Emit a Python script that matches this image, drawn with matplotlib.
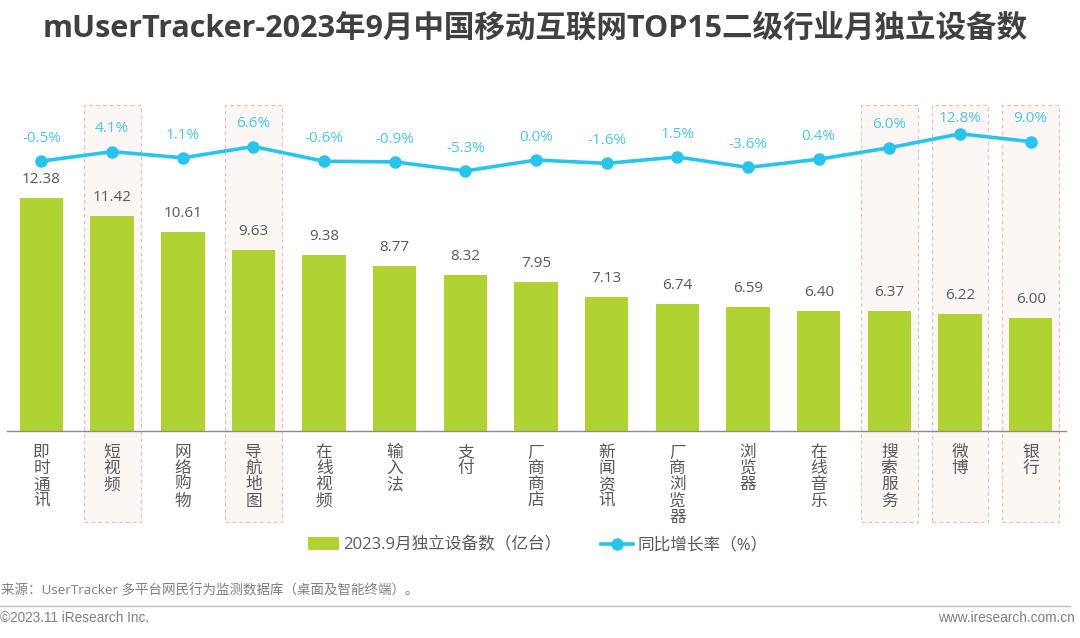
import matplotlib
matplotlib.use("Agg")
import numpy as np
import matplotlib.pyplot as plt
from matplotlib.patches import Rectangle

plt.rcParams['font.family'] = ['Open Sans', 'Noto Sans CJK SC', 'DejaVu Sans']

# data
categories = ['即时通讯', '短视频', '网络购物', '导航地图', '在线视频', '输入法', '支付', '厂商商店',
              '新闻资讯', '厂商浏览器', '浏览器', '在线音乐', '搜索服务', '微博', '银行']
devices = [12.38, 11.42, 10.61, 9.63, 9.38, 8.77, 8.32, 7.95, 7.13, 6.74, 6.59, 6.40, 6.37, 6.22, 6.00]
growth = [-0.5, 4.1, 1.1, 6.6, -0.6, -0.9, -5.3, 0.0, -1.6, 1.5, -3.6, 0.4, 6.0, 12.8, 9.0]
highlighted = ['短视频', '导航地图', '搜索服务', '微博', '银行']

W, H = 1080, 638
GREEN = '#b0d232'
BLUE = '#29c4ec'
GREY = '#595959'

fig = plt.figure(figsize=(W / 100, H / 100), dpi=100)

# axes box in pixels: left 7, right 1066, top 100, bottom 431
ax = fig.add_axes([7 / W, 1 - 431 / H, 1059 / W, 331 / H])
x = np.arange(len(categories))
ax.set_xlim(-0.488, 14.5)
ax.set_ylim(0, 331 / 18.8)

# pink dashed boxes run from above the line down past the labels
for name in highlighted:
    i = categories.index(name)
    ax.add_patch(Rectangle((i - 0.403, -91 / 331), 0.806, 417 / 331,
                           transform=ax.get_xaxis_transform(), clip_on=False,
                           facecolor='#fcf6f5', edgecolor='#e3c4c4', linewidth=0.9,
                           linestyle=(0, (3, 2.5)), zorder=0))

bars = ax.bar(x, devices, width=0.615, color=GREEN, zorder=2, label='2023.9月独立设备数（亿台）')
for i, v in enumerate(devices):
    ax.annotate(f'{v:.2f}', (i, v), xytext=(0, 7.8), textcoords='offset points', ha='center',
                va='bottom', fontsize=11, color=GREY, zorder=5)

ax.set_xticks(x)
ax.set_xticklabels(['\n'.join(c) for c in categories], fontsize=12, color=GREY, linespacing=1.02)
ax.tick_params(axis='x', length=0, pad=10)
ax.set_yticks([])
for s in ['top', 'left', 'right']:
    ax.spines[s].set_visible(False)
ax.spines['bottom'].set_color('#8c8c8c')
ax.spines['bottom'].set_linewidth(1.0)
ax.patch.set_alpha(0)

# growth line on its own axis
ax2 = ax.twinx()
ax2.set_ylim(-132.2, 29.3)
line, = ax2.plot(x, growth, color=BLUE, linewidth=2.6, marker='o', markersize=8,
                 label='同比增长率（%）', zorder=4)
for i, v in enumerate(growth):
    # the 12.8% label sits closer to its point, it would leave the box otherwise
    up = 5.5 if v > 12 else 11
    ax2.annotate(f'{v:.1f}%', (i, v), xytext=(0, up), textcoords='offset points', ha='center',
                 va='bottom', fontsize=11, color='#4cc6e8', zorder=5)
ax2.set_yticks([])
for s in ax2.spines.values():
    s.set_visible(False)

fig.legend(handles=[bars, line], loc='center', bbox_to_anchor=(537.5 / W, 1 - 545.5 / H), ncol=2,
           frameon=False, fontsize=12, labelcolor=GREY, handlelength=1.9, handleheight=0.8,
           handletextpad=0.25, columnspacing=2.36, borderpad=0)

fig.text(535 / W, 1 - 29 / H, 'mUserTracker-2023年9月中国移动互联网TOP15二级行业月独立设备数',
         ha='center', va='center', fontsize=22, fontweight='bold', color='#404040')
fig.text(1 / W, 1 - 591 / H, '来源：UserTracker 多平台网民行为监测数据库（桌面及智能终端）。',
         ha='left', va='center', fontsize=9.7, color='#7f7f7f')
fig.add_artist(plt.Line2D([0, 1070 / W], [1 - 606 / H] * 2, color='#bfbfbf', linewidth=1.0))
fig.text(0, 1 - 618 / H, '©2023.11 iResearch Inc.', ha='left', va='center', fontsize=9.8,
         color='#7f7f7f', family='Liberation Sans')
fig.text(1075 / W, 1 - 618 / H, 'www.iresearch.com.cn', ha='right', va='center', fontsize=9.8,
         color='#7f7f7f', family='Liberation Sans')

fig.savefig('out.png', dpi=100)
